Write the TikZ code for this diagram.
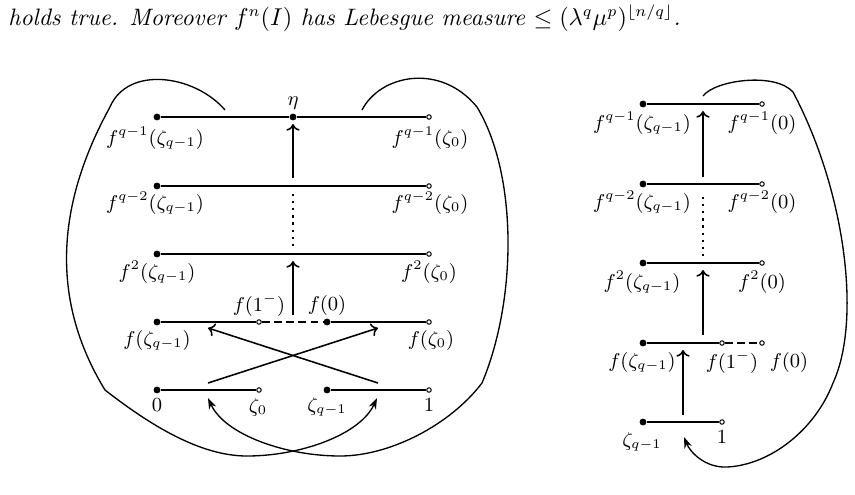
\documentclass[tikz,border=0pt]{standalone}
\usetikzlibrary{arrows.meta}
\begin{document}
\begin{tikzpicture}[x=0.45pt,y=-0.45pt,
  ln/.style={line width=0.7pt},
  dotn/.style={circle,fill=black,inner sep=0pt,minimum size=3.1pt},
  odotn/.style={circle,draw=black,fill=white,line width=0.45pt,inner sep=0pt,minimum size=2pt},
  lab/.style={inner sep=0pt,font=\small},
  upar/.style={ln,-{To[length=3pt,width=6pt]}},
  looparr/.style={line width=0.6pt,-{Stealth[length=5pt,width=3.5pt]}},
  dotsline/.style={line width=1pt,dash pattern=on 1pt off 2.2pt},
  dashline/.style={line width=1pt,dash pattern=on 3.5pt off 2pt}]
\useasboundingbox (0,0) rectangle (855,494);
\node[anchor=base west,inner sep=0pt,font=\fontsize{10.7}{13}\selectfont] (top) at (8,25) {\itshape holds true. Moreover $f^n(I)$ has Lebesgue measure $\leq (\lambda^q\mu^p)^{\lfloor n/q\rfloor}$.};
% ---------------- left diagram ----------------
% row 1
\node[dotn] (a1) at (157,117) {};
\node[dotn] (e1) at (293,117) {};
\node[odotn] (b1) at (429,117) {};
\draw[ln] (a1) -- (e1) -- (b1);
\node[lab] (la1) at (155,138) {$f^{q-1}(\zeta_{q-1})$};
\node[lab] (lb1) at (430,138) {$f^{q-1}(\zeta_0)$};
\node[lab] (leta) at (293,103) {$\eta$};
% row 2
\node[dotn] (a2) at (157,186) {};
\node[odotn] (b2) at (429,186) {};
\draw[ln] (a2) -- (b2);
\node[lab] (la2) at (155,203) {$f^{q-2}(\zeta_{q-1})$};
\node[lab] (lb2) at (430,203) {$f^{q-2}(\zeta_0)$};
% row 3
\node[dotn] (a3) at (157,254) {};
\node[odotn] (b3) at (429,254) {};
\draw[ln] (a3) -- (b3);
\node[lab] (la3) at (157,272) {$f^{2}(\zeta_{q-1})$};
\node[lab] (lb3) at (429,272) {$f^{2}(\zeta_0)$};
% row 4
\node[dotn] (a4) at (157,322) {};
\node[odotn] (c4) at (259,322) {};
\node[dotn] (d4) at (327,322) {};
\node[odotn] (b4) at (429,322) {};
\draw[ln] (a4) -- (c4);
\draw[dashline] (c4) -- (d4);
\draw[ln] (d4) -- (b4);
\node[lab] (la4) at (157,340) {$f(\zeta_{q-1})$};
\node[lab] (lb4) at (431,340) {$f(\zeta_0)$};
\node[lab] (lc4) at (259,305) {$f(1^-)$};
\node[lab] (ld4) at (327,305) {$f(0)$};
% row 5
\node[dotn] (a5) at (157,390) {};
\node[odotn] (c5) at (259,390) {};
\node[dotn] (d5) at (327,390) {};
\node[odotn] (b5) at (429,390) {};
\draw[ln] (a5) -- (c5);
\draw[ln] (d5) -- (b5);
\node[lab] (la5) at (157,405) {$0$};
\node[lab] (lc5) at (258,407) {$\zeta_0$};
\node[lab] (ld5) at (327,407) {$\zeta_{q-1}$};
\node[lab] (lb5) at (429,405) {$1$};
% vertical arrows
\coordinate (v1s) at (293,178);
\coordinate (v1e) at (293,124);
\draw[upar] (v1s) -- (v1e);
\coordinate (v2s) at (293,194);
\coordinate (v2e) at (293,247);
\draw[dotsline] (v2s) -- (v2e);
\coordinate (v3s) at (293,315);
\coordinate (v3e) at (293,261);
\draw[upar] (v3s) -- (v3e);
% crossing arrows
\coordinate (x1s) at (208,383);
\coordinate (x1e) at (378,328);
\coordinate (x2s) at (378,383);
\coordinate (x2e) at (208,328);
\draw[upar] (x1s) -- (x1e);
\draw[upar] (x2s) -- (x2e);
% big loops
\coordinate (p1) at (225,110);
\coordinate (t1) at (377,398);
\draw[looparr] (p1) .. controls (195,75) and (128,65) .. (110,107)
  .. controls (56,205) and (50,300) .. (105,390)
  .. controls (150,425) and (200,456) .. (247,456)
  .. controls (300,456) and (360,435) .. (t1);
\coordinate (p2) at (362,110);
\coordinate (t2) at (208,398);
\draw[looparr] (p2) .. controls (380,75) and (440,62) .. (477,107)
  .. controls (518,175) and (517,300) .. (482,383)
  .. controls (450,425) and (390,456) .. (340,456)
  .. controls (286,456) and (225,435) .. (t2);
% ---------------- right diagram ----------------
\node[dotn] (ra1) at (643,104) {};
\node[odotn] (rb1) at (762,104) {};
\draw[ln] (ra1) -- (rb1);
\node[lab] (rla1) at (642,123) {$f^{q-1}(\zeta_{q-1})$};
\node[lab] (rlb1) at (762,123) {$f^{q-1}(0)$};
\node[dotn] (ra2) at (643,184) {};
\node[odotn] (rb2) at (762,184) {};
\draw[ln] (ra2) -- (rb2);
\node[lab] (rla2) at (642,202) {$f^{q-2}(\zeta_{q-1})$};
\node[lab] (rlb2) at (762,202) {$f^{q-2}(0)$};
\node[dotn] (ra3) at (643,263) {};
\node[odotn] (rb3) at (762,263) {};
\draw[ln] (ra3) -- (rb3);
\node[lab] (rla3) at (642,282) {$f^{2}(\zeta_{q-1})$};
\node[lab] (rlb3) at (762,282) {$f^{2}(0)$};
\node[dotn] (ra4) at (643,343) {};
\node[odotn] (rc4) at (722,343) {};
\node[odotn] (rb4) at (762,343) {};
\draw[ln] (ra4) -- (rc4);
\draw[dashline] (rc4) -- (rb4);
\node[lab] (rla4) at (642,362) {$f(\zeta_{q-1})$};
\node[lab] (rlc4) at (732,362) {$f(1^-)$};
\node[lab] (rlb4) at (789,362) {$f(0)$};
\node[dotn] (ra5) at (643,422) {};
\node[odotn] (rb5) at (722,422) {};
\draw[ln] (ra5) -- (rb5);
\node[lab] (rla5) at (642,442) {$\zeta_{q-1}$};
\node[lab] (rlb5) at (722,437) {$1$};
% vertical arrows
\coordinate (rv1s) at (703,177);
\coordinate (rv1e) at (703,111);
\draw[upar] (rv1s) -- (rv1e);
\coordinate (rv2s) at (703,197);
\coordinate (rv2e) at (703,257);
\draw[dotsline] (rv2s) -- (rv2e);
\coordinate (rv3s) at (703,335);
\coordinate (rv3e) at (703,270);
\draw[upar] (rv3s) -- (rv3e);
\coordinate (rv4s) at (683,415);
\coordinate (rv4e) at (683,350);
\draw[upar] (rv4s) -- (rv4e);
% loop
\coordinate (rp) at (703,96);
\coordinate (rt) at (684,437);
\draw[looparr] (rp) .. controls (715,80) and (775,72) .. (793,92)
  .. controls (845,190) and (862,320) .. (833,383)
  .. controls (815,430) and (770,465) .. (727,467)
  .. controls (705,468) and (690,452) .. (rt);
\end{tikzpicture}
\end{document}
